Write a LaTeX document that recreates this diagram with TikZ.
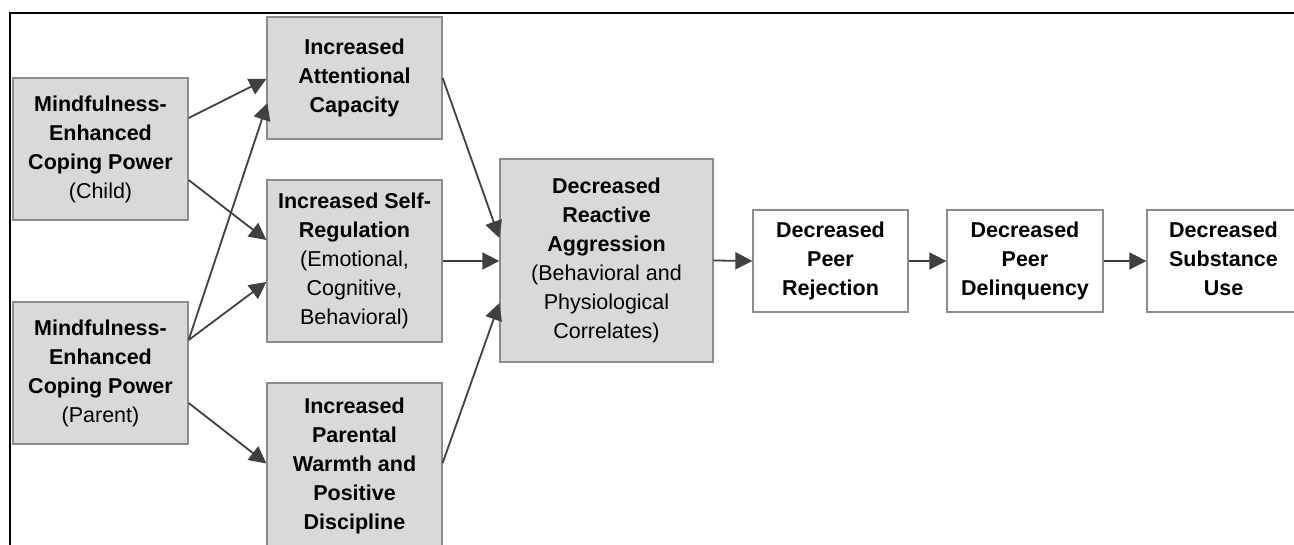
\documentclass[tikz,border=0pt]{standalone}
\usepackage{fontspec}
\setmainfont{Liberation Sans}
\usetikzlibrary{arrows.meta}
\definecolor{boxfill}{HTML}{D9D9D9}
\definecolor{boxline}{HTML}{8C8C8C}
\definecolor{arrowcol}{HTML}{404040}
\tikzset{
  box/.style={draw=boxline, line width=1.3pt, rectangle, align=center, inner sep=0pt,
    font=\fontsize{21.5}{29}\selectfont, text=black},
  graybox/.style={box, fill=boxfill},
  whitebox/.style={box, fill=white},
  conn/.style={draw=arrowcol, line width=1.8pt, -{Triangle[length=17pt,width=17pt]}},
}
\begin{document}
\begin{tikzpicture}[x=1pt,y=-1pt]
\useasboundingbox (0,0) rectangle (1294,545);
\clip (0,0) rectangle (1294,545);
\fill[white] (0,0) rectangle (1294,545);
\draw[black, line width=2pt] (9.5,560) -- (9.5,13) -- (1300,13);

\node[graybox, minimum width=175pt, minimum height=142pt] (child) at (100.5,149)
  {\textbf{Mindfulness-}\\\textbf{Enhanced}\\\textbf{Coping Power}\\(Child)};
\node[graybox, minimum width=175pt, minimum height=142pt] (parent) at (100.5,373)
  {\textbf{Mindfulness-}\\\textbf{Enhanced}\\\textbf{Coping Power}\\(Parent)};
\node[graybox, minimum width=175pt, minimum height=122pt] (att) at (354.5,78)
  {\textbf{Increased}\\\textbf{Attentional}\\\textbf{Capacity}};
\node[graybox, minimum width=175pt, minimum height=162pt] (self) at (354.5,261)
  {\textbf{Increased Self-}\\\textbf{Regulation}\\(Emotional,\\Cognitive,\\Behavioral)};
\node[graybox, minimum width=175pt, minimum height=165pt] (warm) at (354.5,465.5)
  {\textbf{Increased}\\\textbf{Parental}\\\textbf{Warmth and}\\\textbf{Positive}\\\textbf{Discipline}};
\node[graybox, minimum width=213pt, minimum height=203pt] (react) at (606.5,260.5)
  {\textbf{Decreased}\\\textbf{Reactive}\\\textbf{Aggression}\\(Behavioral and\\Physiological\\Correlates)};
\node[whitebox, minimum width=155pt, minimum height=102pt] (rej) at (830.5,261)
  {\textbf{Decreased}\\\textbf{Peer}\\\textbf{Rejection}};
\node[whitebox, minimum width=156pt, minimum height=102pt] (delq) at (1025,261)
  {\textbf{Decreased}\\\textbf{Peer}\\\textbf{Delinquency}};
\node[whitebox, minimum width=153pt, minimum height=102pt] (subs) at (1223.5,261)
  {\textbf{Decreased}\\\textbf{Substance}\\\textbf{Use}\vphantom{y}};

\draw[conn] ([yshift=31pt]child.east) -- ([yshift=-1pt]att.west);
\draw[conn] ([yshift=33pt]parent.east) -- ([xshift=1pt,yshift=-25pt]att.west);
\draw[conn] ([yshift=-31pt]child.east) -- ([yshift=21pt]self.west);
\draw[conn] ([yshift=33pt]parent.east) -- ([yshift=-21pt]self.west);
\draw[conn] ([yshift=-30pt]parent.east) -- ([yshift=2pt]warm.west);
\draw[conn] (att.east) -- ([yshift=22.5pt]react.west);
\draw[conn] (self.east) -- ([yshift=-0.5pt]react.west);
\draw[conn] ([yshift=2.5pt]warm.east) -- ([yshift=-42.5pt]react.west);
\draw[conn] (react.east) -- (rej.west);
\draw[conn] (rej.east) -- (delq.west);
\draw[conn] (delq.east) -- (subs.west);
\end{tikzpicture}
\end{document}
